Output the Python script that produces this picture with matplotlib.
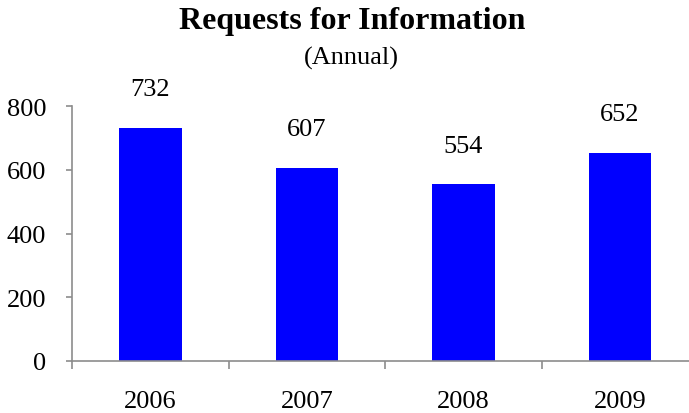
import matplotlib
matplotlib.use("Agg")
import matplotlib.pyplot as plt

# yearly request counts
years = ["2006", "2007", "2008", "2009"]
requests = [732, 607, 554, 652]

plt.rcParams['font.family'] = ['Liberation Serif', 'DejaVu Serif']

W, H = 689, 414
fig = plt.figure(figsize=(W / 100, H / 100), dpi=100)

# axes box in pixel terms: y axis at x=72, zero line at y=362, 800 at y=107
left, bottom, top = 72, 362, 107
ax = fig.add_axes([left / W, (H - bottom) / H, 1 - left / W, (bottom - top) / H])

x = range(len(years))
ax.bar(x, requests, width=0.4, color="#0000FF", zorder=2)

for i, v in zip(x, requests):
    ax.annotate(str(v), (i, v), xytext=(0, 28), textcoords="offset points",
                ha="center", va="center", fontsize=19)

ax.set_ylim(0, 800)
ax.set_xlim(-0.5, 3.44)
ax.set_yticks([0, 200, 400, 600, 800])
ax.set_xticks(list(x))
ax.set_xticklabels(years)

# category boundary ticks on the x axis
ax.set_xticks([-0.5, 0.5, 1.5, 2.5], minor=True)
ax.tick_params(axis="x", which="major", length=0, pad=21, labelsize=19)
ax.tick_params(axis="x", which="minor", length=6, width=1.2, color="#8c8c8c", direction="out")
ax.tick_params(axis="y", length=4.5, width=1.2, color="#8c8c8c", pad=14, labelsize=19)

for s in ["top", "right"]:
    ax.spines[s].set_visible(False)
for s in ["left", "bottom"]:
    ax.spines[s].set_color("#8c8c8c")
    ax.spines[s].set_linewidth(1.2)

fig.text(352 / W, 1 - 21 / H, "Requests for Information", ha="center", va="center",
         fontsize=23, fontweight="bold")
fig.text(351 / W, 1 - 58 / H, "(Annual)", ha="center", va="center", fontsize=19)

fig.savefig("out.png", dpi=100)
